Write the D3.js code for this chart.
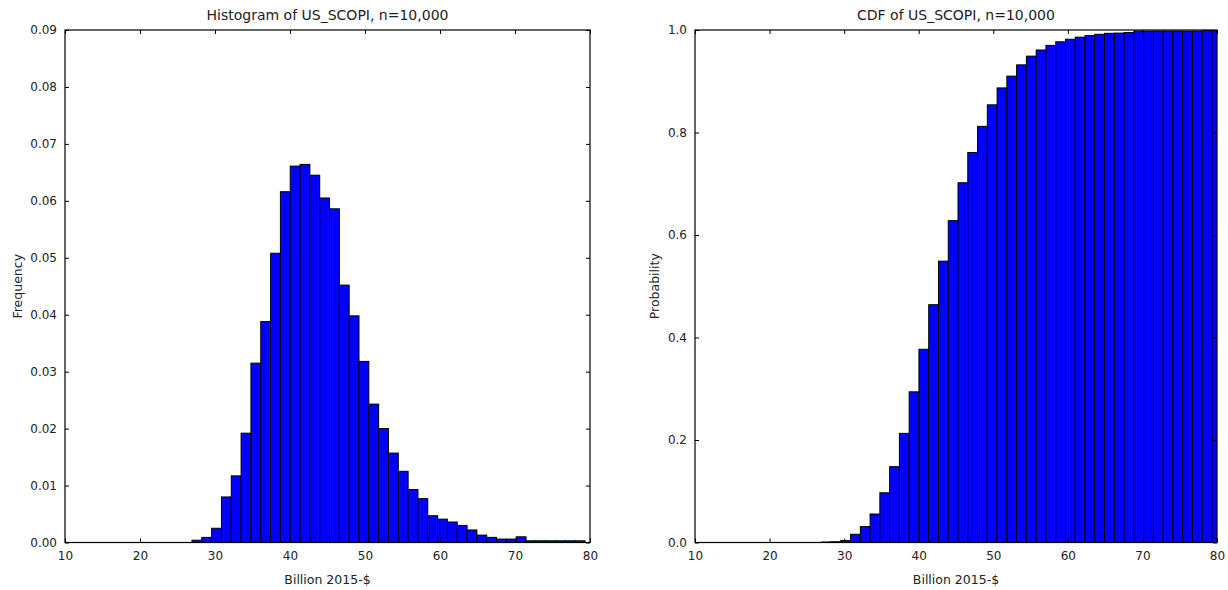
<!DOCTYPE html>
<html><head><meta charset="utf-8">
<script src="https://cdn.jsdelivr.net/npm/d3@7"></script>
<style>body{margin:0;background:#fff}svg{display:block}</style>
</head><body><svg id="c" width="1228" height="590"></svg>
<script>
// ---- data ----
const binStart = 26.93;
const binWidth = 1.31;
const histValues = [0.0004, 0.0009, 0.0025, 0.0080, 0.0117, 0.0192, 0.0315, 0.0388, 0.0508, 0.0616,
  0.0661, 0.0664, 0.0645, 0.0605, 0.0586, 0.0452, 0.0398, 0.0318, 0.0243, 0.0200,
  0.0157, 0.0125, 0.0093, 0.0077, 0.0047, 0.0041, 0.0036, 0.0030, 0.0022, 0.0013,
  0.0009, 0.0006, 0.0006, 0.0010, 0.0003, 0.0003, 0.0003, 0.0003, 0.0003, 0.0003];
const cdfValues = [0.001, 0.0015, 0.004, 0.016, 0.031, 0.0556, 0.097, 0.148, 0.213, 0.294,
  0.377, 0.464, 0.549, 0.628, 0.702, 0.761, 0.812, 0.854, 0.887, 0.910,
  0.932, 0.949, 0.961, 0.970, 0.977, 0.982, 0.986, 0.989, 0.9916, 0.9935,
  0.994, 0.995, 0.998, 0.998, 0.998, 0.998, 0.998, 0.998, 0.998, 1.0, 1.0];
const xTicks = [10, 20, 30, 40, 50, 60, 70, 80];
const histYTicks = [0, 0.01, 0.02, 0.03, 0.04, 0.05, 0.06, 0.07, 0.08, 0.09];
const cdfYTicks = [0, 0.2, 0.4, 0.6, 0.8, 1.0];
const xLabel = "Billion 2015-$";

const svg = d3.select("#c");
svg.append("rect").attr("width", 1228).attr("height", 590).attr("fill", "#fff");
const FONT = "DejaVu Sans, sans-serif";

function panel(o) {
  const x = d3.scaleLinear().domain([10, 80]).range([o.left, o.right]);
  const y = d3.scaleLinear().domain([0, o.yMax]).range([o.bottom, o.top]);
  const g = svg.append("g");
  const clipId = "clip" + o.id;
  svg.append("clipPath").attr("id", clipId).append("rect")
    .attr("x", o.left).attr("y", o.top).attr("width", o.right - o.left).attr("height", o.bottom - o.top);

  g.append("g").attr("clip-path", `url(#${clipId})`)
    .selectAll("rect").data(o.values).join("rect")
    .attr("x", (d, i) => x(binStart + i * binWidth))
    .attr("width", (d, i) => x(binStart + (i + 1) * binWidth) - x(binStart + i * binWidth))
    .attr("y", d => y(d))
    .attr("height", d => y(0) - y(d))
    .attr("fill", "#0000ff").attr("stroke", "#000").attr("stroke-width", 1);

  const styleAxis = (sel, labels) => {
    sel.select(".domain").remove();
    sel.selectAll(".tick line").attr("stroke", "#000");
    sel.selectAll(".tick text").attr("fill", "#222").style("font-family", FONT).style("font-size", "12px");
    if (!labels) sel.selectAll(".tick text").remove();
  };
  g.append("g").attr("transform", `translate(0,${o.bottom})`)
    .call(d3.axisBottom(x).tickValues(xTicks).tickSize(-4).tickPadding(9).tickFormat(d3.format("d")))
    .call(s => styleAxis(s, true));
  g.append("g").attr("transform", `translate(0,${o.top})`)
    .call(d3.axisTop(x).tickValues(xTicks).tickSize(-4))
    .call(s => styleAxis(s, false));
  g.append("g").attr("transform", `translate(${o.left},0)`)
    .call(d3.axisLeft(y).tickValues(o.yTicks).tickSize(-4).tickPadding(8).tickFormat(d3.format(o.fmt)))
    .call(s => styleAxis(s, true));
  g.append("g").attr("transform", `translate(${o.right},0)`)
    .call(d3.axisRight(y).tickValues(o.yTicks).tickSize(-4))
    .call(s => styleAxis(s, false));

  g.append("rect").attr("x", o.left).attr("y", o.top)
    .attr("width", o.right - o.left).attr("height", o.bottom - o.top)
    .attr("fill", "none").attr("stroke", "#000").attr("stroke-width", 1.2);

  g.append("text").attr("x", (o.left + o.right) / 2).attr("y", o.top - 10)
    .attr("text-anchor", "middle").style("font-family", FONT).style("font-size", "14px")
    .attr("fill", "#222").text(o.title);
  g.append("text").attr("x", (o.left + o.right) / 2).attr("y", o.bottom + 41)
    .attr("text-anchor", "middle").style("font-family", FONT).style("font-size", "12.5px")
    .attr("fill", "#222").text(xLabel);
  g.append("text").attr("transform", `translate(${o.ylabX},${(o.top + o.bottom) / 2}) rotate(-90)`)
    .attr("text-anchor", "middle").style("font-family", FONT).style("font-size", "12.5px")
    .attr("fill", "#222").text(o.ylabel);
}

panel({id: "h", left: 65, right: 590, top: 30, bottom: 542.5, yMax: 0.09, values: histValues,
  yTicks: histYTicks, fmt: ".2f", title: "Histogram of US_SCOPI, n=10,000", ylabel: "Frequency", ylabX: 22});
panel({id: "c", left: 695, right: 1217, top: 30, bottom: 542.5, yMax: 1.0, values: cdfValues,
  yTicks: cdfYTicks, fmt: ".1f", title: "CDF of US_SCOPI, n=10,000", ylabel: "Probability", ylabX: 659});
</script>
</body></html>
